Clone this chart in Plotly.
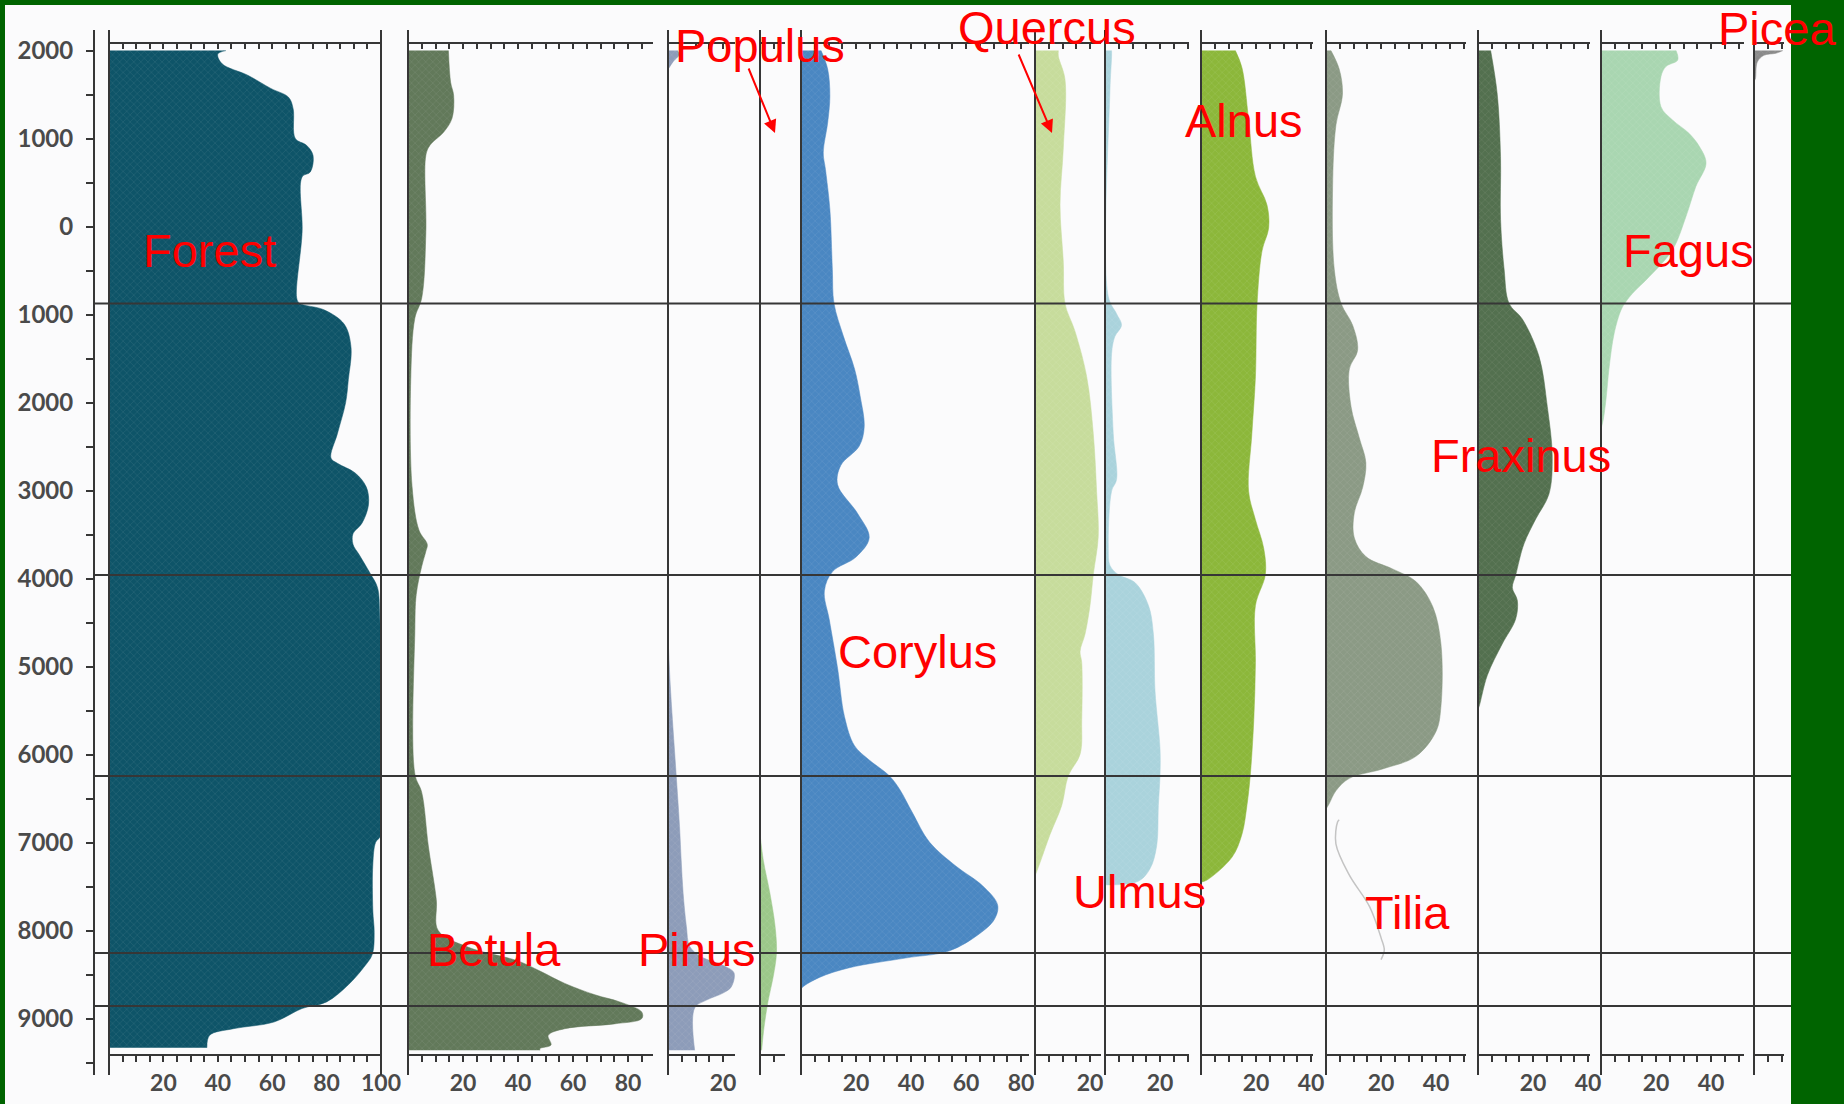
import plotly.graph_objects as go

W, H = 1844, 1104

# ---------------------------------------------------------------------------
# Pollen percentages against calendar age (AD positive, BC negative)
# ---------------------------------------------------------------------------
forest_age = [2000, 1960, 1850, 1720, 1570, 1470, 1340, 1000, 925, 810, 620, 565, -60,
              -810, -870, -945, -1110, -1380, -1735, -2000, -2350, -2630, -2690, -2800,
              -2960, -3160, -3370, -3490, -3610, -3730, -3940, -4100, -4390, -5500, -6920,
              -7000, -7245, -7775, -8020, -8270, -8420, -8615, -8810, -8885, -9040, -9115,
              -9190, -9330]
forest_pct = [43, 40, 41.6, 51, 59.5, 66, 67.7, 68.5, 72.6, 75, 74, 71, 71,
              69, 70, 79, 86.5, 89, 88, 87, 84, 81.6, 84, 90.5,
              94.6, 95.4, 93, 89.7, 89.7, 92, 96, 98.7, 99.5, 99.8, 99.8,
              98, 97, 97, 97.5, 96.8, 93.6, 88, 80, 71, 60.6, 45.7,
              37, 36]

betula_age = [2000, 1640, 1490, 1230, 1075, 925, 810, -60, -810, -1040, -1735, -2960,
              -3450, -3610, -3690, -3860, -4180, -4590, -6220, -6430, -7040, -7650, -8000,
              -8190, -8345, -8460, -8600, -8730, -8810, -8925, -9000, -9060, -9115, -9190,
              -9300, -9340, -9360]
betula_pct = [14.7, 15.5, 16.6, 16, 13, 8, 6.5, 6.5, 5, 2.5, 1, 1.5,
              4, 7, 6.5, 5, 3, 2.5, 2.5, 5, 7.4, 10.3, 11,
              22, 40, 48, 57, 68, 77, 85, 85, 75, 57, 51,
              52, 48, 48]

pinus_top_age = [2000, 1950, 1880, 1800]
pinus_top_pct = [3.5, 4, 2, 0.3]
pinus_age = [-4800, -5200, -5600, -6060, -6820, -7200, -7575, -7955, -8180, -8295,
             -8410, -8480, -8640, -8710, -8790, -8880, -9360]
pinus_pct = [0.2, 0.8, 1.6, 2.6, 4.2, 4.8, 5.5, 6.7, 7.9, 12,
             21, 24, 23, 20, 14, 9.7, 9.7]

populus_age = [-6900, -7200, -7575, -7955, -8250, -8525, -8790, -9090, -9360]
populus_pct = [0, 1.2, 3.6, 5.5, 6, 4.8, 3, 1.5, 0.6]

corylus_age = [2000, 1790, 1485, 1180, 840, 650, 195, -486, -873, -1244, -1620, -1925,
               -2273, -2493, -2712, -2932, -3261, -3536, -3755, -3920, -4140, -4469,
               -5018, -5567, -5896, -6061, -6237, -6391, -6665, -6994, -7269, -7489,
               -7708, -7873, -8038, -8230, -8312, -8422, -8532, -8642, -8670]
corylus_pct = [7.3, 9.7, 10.5, 9.7, 8.1, 8.9, 10.5, 11.4, 12, 15.4, 19.5, 21.5,
               23, 21.2, 14.5, 13.3, 20.6, 24.8, 20, 11.5, 8.5, 10.3,
               13.3, 15.8, 19.4, 24.8, 32, 35.8, 40.6, 46.7, 56.4, 66,
               71.5, 70.3, 64.8, 54, 38, 17.6, 6.7, 0.6, 0]

quercus_age = [2000, 1935, 1675, 895, 245, -405, -873, -1185, -1705, -2355, -3005, -3525,
               -3954, -4305, -4630, -4825, -4955, -5605, -5995, -6242, -6580, -6905, -7230,
               -7380]
quercus_pct = [8.5, 8.5, 10.9, 10.3, 9.1, 10.3, 10.9, 14.5, 18.8, 21.2, 22.4, 23,
               21.2, 20, 18.2, 16.4, 17, 17, 16.4, 12.1, 9.7, 5.5, 1.8,
               0]

ulmus_age = [2000, 1935, 1545, -795, -990, -1120, -1250, -1445, -2355, -2875, -3005,
             -3655, -3850, -3954, -4045, -4305, -4630, -5280, -5930, -6242, -6580, -7035,
             -7295, -7440, -7480]
ulmus_pct = [2.4, 2.4, 1.8, 1.2, 4.2, 6, 3.6, 2.4, 3, 4.2, 2.4,
             1.2, 1.8, 4.8, 10.9, 15.8, 17.6, 18.2, 20, 20, 19.4, 18.8,
             16.4, 12.1, 0]

alnus_age = [2000, 1805, 1220, 570, 245, -15, -275, -873, -1705, -2355, -3005, -3330,
             -3655, -3954, -4305, -4955, -5605, -6242, -6580, -6905, -7165, -7425, -7450]
alnus_pct = [12.5, 14.9, 17.3, 19.8, 24, 24.6, 22.2, 20.4, 19.8, 18.5, 17.3, 19.8,
             22.8, 23.4, 19.8, 19.8, 19.2, 17.9, 16.7, 14.9, 11.3, 2.2, 0]

tilia_age = [2000, 1790, 1505, 1150, 440, -483, -873, -1122, -1405, -1618, -2045, -2400,
             -2684, -2968, -3252, -3536, -3750, -3890, -4033, -4317, -4743, -5453, -5737,
             -6020, -6163, -6270, -6412, -6555, -6620]
tilia_pct = [1.8, 4.8, 6, 3.6, 2.4, 3, 5.5, 9.7, 11.5, 8.5, 9.1, 12.1,
             14.5, 13.3, 10.3, 10.3, 14.5, 24.2, 32.7, 38.8, 41.8, 41.8, 40,
             32.7, 20.6, 8.5, 3.6, 1.2, 0]
# exaggerated Tilia curve (outline only)
tilia_line_age = [-6740, -6766, -7014, -7370, -7725, -8080, -8222, -8330]
tilia_line_pct = [4.8, 4.2, 3.6, 8.5, 15.8, 20, 21.2, 20]

fraxinus_age = [2000, 1505, 795, 85, -483, -873, -1050, -1477, -2045, -2613, -3040,
                -3323, -3607, -3962, -4104, -4246, -4459, -4743, -5098, -5453, -5480]
fraxinus_pct = [4.6, 7, 8.2, 8.2, 9.5, 11.3, 16.1, 22.2, 25.2, 27, 25.8,
                21, 16.7, 13.7, 12.5, 14.3, 13.7, 8.8, 3.4, 0.4, 0]

fagus_age = [2000, 1893, 1818, 1704, 1363, 1212, 1060, 909, 720, 455, 114, -265, -568,
             -758, -852, -947, -1212, -1591, -1970, -2197, -2300]
fagus_pct = [27.3, 27.9, 23.6, 21.8, 21.8, 26, 32, 35.8, 38.2, 34.5, 30.9, 26, 17.6,
             11.5, 9.1, 7.3, 4.8, 3, 1.8, 0.8, 0]

picea_age = [2000, 1970, 1946, 1870, 1680, 1650]
picea_pct = [10.5, 8, 3.6, 1.2, 0.5, 0]

# pollen-zone boundaries (calendar years)
zone_bounds = [-873, -3959, -6243, -8254, -8857]

# tick labels
age_ticks = list(range(2000, -9501, -500))
forest_ticks = [20, 40, 60, 80, 100]
betula_ticks = [20, 40, 60, 80]
pinus_ticks = [20]
populus_ticks = []
corylus_ticks = [20, 40, 60, 80]
quercus_ticks = [20]
ulmus_ticks = [20]
alnus_ticks = [20, 40]
tilia_ticks = [20, 40]
fraxinus_ticks = [20, 40]
fagus_ticks = [20, 40]
picea_ticks = []

# ---------------------------------------------------------------------------
# Panel geometry (pixels) and styling
# ---------------------------------------------------------------------------
PX_PER_PCT = 2.75
AGE_AXIS_X = 94
Y_TOP_PX, Y_BOT_PX = 30, 1075          # extent of the age axis
BAR_TOP_PX, BAR_BOT_PX = 42.5, 1055    # top / bottom percentage bars
WHITE_LEFT, WHITE_RIGHT, WHITE_TOP = 5, 1791, 5

panels = [
    dict(left=109, xmax=100, scale=2.72, ticks=forest_ticks, color="#0e5468",
         series=[(forest_age, forest_pct)], right_line=True),
    dict(left=408, xmax=89, ticks=betula_ticks, color="#62795a",
         series=[(betula_age, betula_pct)]),
    dict(left=668, xmax=24.4, ticks=pinus_ticks, color="#8d9cb9",
         series=[(pinus_top_age, pinus_top_pct), (pinus_age, pinus_pct)]),
    dict(left=760, xmax=9, ticks=populus_ticks, color="#9cc88a",
         series=[(populus_age, populus_pct)]),
    dict(left=801, xmax=83, ticks=corylus_ticks, color="#4a87c2",
         series=[(corylus_age, corylus_pct)]),
    dict(left=1035, xmax=24, ticks=quercus_ticks, color="#c7dc9c",
         series=[(quercus_age, quercus_pct)]),
    dict(left=1105, xmax=30.5, ticks=ulmus_ticks, color="#aad3dc",
         series=[(ulmus_age, ulmus_pct)]),
    dict(left=1201, xmax=40.7, ticks=alnus_ticks, color="#8cb73a",
         series=[(alnus_age, alnus_pct)]),
    dict(left=1326, xmax=51, ticks=tilia_ticks, color="#8b9a85",
         series=[(tilia_age, tilia_pct)]),
    dict(left=1478, xmax=40.7, ticks=fraxinus_ticks, color="#53704f",
         series=[(fraxinus_age, fraxinus_pct)]),
    dict(left=1601, xmax=52, ticks=fagus_ticks, color="#a9d6b1",
         series=[(fagus_age, fagus_pct)]),
    dict(left=1754, xmax=11, ticks=picea_ticks, color="#8a8a8a",
         series=[(picea_age, picea_pct)]),
]

labels = [
    ("Forest", 209, 250), ("Betula", 494, 949), ("Pinus", 697, 949),
    ("Populus", 760, 45), ("Corylus", 917, 651), ("Quercus", 1047, 27),
    ("Ulmus", 1139, 891), ("Alnus", 1244, 121), ("Tilia", 1407, 912),
    ("Fraxinus", 1521, 455), ("Fagus", 1688, 251), ("Picea", 1777, 29),
]
arrows = [((775, 133), (748, 67)), ((1052, 133), (1018, 53))]

LINE_COL = "#363636"
TICK_FONT = dict(family="Lato, Open Sans, sans-serif", size=23, color="#4a4a4a",
                 weight="bold")


def fx(px):
    return px / W


def fy(py):
    return 1 - py / H


def lighten(hex_col, amt):
    r, g, b = (int(hex_col[k:k + 2], 16) for k in (1, 3, 5))
    r, g, b = (round(c + (255 - c) * amt) for c in (r, g, b))
    return f"#{r:02x}{g:02x}{b:02x}"


fig = go.Figure()
layout = {}
shapes = [dict(type="rect", xref="paper", yref="paper", x0=fx(WHITE_LEFT),
               x1=fx(WHITE_RIGHT), y0=0, y1=fy(WHITE_TOP), fillcolor="#fbfbfc",
               line=dict(width=0), layer="below")]
n = len(panels)
for i, p in enumerate(panels, start=1):
    xa = "x" if i == 1 else f"x{i}"
    xa_top = f"x{i + n}"
    right_px = p["left"] + p["xmax"] * p.get("scale", PX_PER_PCT)
    dom = [fx(p["left"]), fx(right_px)]
    tickvals = list(range(0, int(p["xmax"]) + 1, 5))
    ticktext = [str(v) if v in p["ticks"] else "" for v in tickvals]
    for ages, pcts in p["series"]:
        fig.add_trace(go.Scatter(
            x=pcts, y=ages, xaxis=xa, yaxis="y", mode="lines", fill="tozerox",
            fillcolor=p["color"],
            fillpattern=dict(shape="x", size=5, solidity=0.2, bgcolor=p["color"],
                             fgcolor=lighten(p["color"], 0.12), fillmode="replace"),
            line=dict(width=0.5, color=p["color"], shape="spline", smoothing=1.0),
            hoverinfo="skip", showlegend=False))
    common = dict(domain=dom, range=[0, p["xmax"]], anchor="free", showgrid=False,
                  zeroline=False, showline=True, linecolor=LINE_COL, linewidth=2,
                  tickvals=tickvals, tickcolor=LINE_COL, tickwidth=1.5, fixedrange=True,
                  automargin=False)
    layout["xaxis" if i == 1 else f"xaxis{i}"] = dict(
        common, position=fy(BAR_BOT_PX), side="bottom", ticks="outside", ticklen=6,
        ticktext=ticktext, tickfont=TICK_FONT, ticklabelstandoff=1)
    layout[f"xaxis{i + n}"] = dict(
        common, overlaying=xa, position=fy(BAR_TOP_PX), side="top", ticks="inside",
        ticklen=5, showticklabels=False)
    # invisible companion trace so the top bar is drawn
    fig.add_trace(go.Scatter(x=[0], y=[2000], xaxis=xa_top, yaxis="y", mode="markers",
                             marker=dict(opacity=0), hoverinfo="skip", showlegend=False))
    # vertical panel line(s)
    edges = [p["left"], right_px] if p.get("right_line") else [p["left"]]
    for ex in edges:
        shapes.append(dict(type="line", xref="paper", yref="y domain", x0=fx(ex),
                           x1=fx(ex), y0=0, y1=1, line=dict(color=LINE_COL, width=2)))

# exaggerated Tilia outline
tilia_idx = 9
fig.add_trace(go.Scatter(x=tilia_line_pct, y=tilia_line_age, xaxis=f"x{tilia_idx}",
                         yaxis="y", mode="lines",
                         line=dict(color="#c4c4c4", width=1.5, shape="spline"),
                         hoverinfo="skip", showlegend=False))

y_top_val = 2000 + (50.6 - Y_TOP_PX) / 0.088
y_bot_val = 2000 - (Y_BOT_PX - 50.6) / 0.088
layout["yaxis"] = dict(
    domain=[fy(Y_BOT_PX), fy(Y_TOP_PX)], range=[y_bot_val, y_top_val], anchor="free",
    position=fx(AGE_AXIS_X), side="left", showgrid=False, zeroline=False, showline=True,
    linecolor=LINE_COL, linewidth=2, ticks="outside", ticklen=7, tickwidth=1.5,
    tickcolor=LINE_COL, tickvals=age_ticks,
    ticktext=[str(abs(v)) if v % 1000 == 0 else "" for v in age_ticks],
    tickfont=dict(TICK_FONT, size=24), ticklabelstandoff=8, fixedrange=True,
    automargin=False)

# zone boundaries
for z in zone_bounds:
    shapes.append(dict(type="line", xref="paper", yref="y", x0=fx(AGE_AXIS_X),
                       x1=fx(WHITE_RIGHT), y0=z, y1=z, line=dict(color=LINE_COL, width=2)))

annotations = []
for text, x, y in labels:
    annotations.append(dict(text=text, xref="paper", yref="paper", x=fx(x), y=fy(y),
                            xanchor="center", yanchor="middle", showarrow=False,
                            font=dict(family="Liberation Sans, Arial, sans-serif",
                                      size=47, color="#ff0000")))
for (hx, hy), (tx, ty) in arrows:
    annotations.append(dict(text="", xref="paper", yref="paper", x=fx(hx), y=fy(hy),
                            ax=tx - hx, ay=ty - hy, showarrow=True, arrowhead=2,
                            arrowsize=1.3, arrowwidth=2, arrowcolor="#ff0000"))

fig.update_layout(
    width=W, height=H, autosize=False,
    margin=dict(l=0, r=0, t=0, b=0, pad=0, autoexpand=False),
    paper_bgcolor="#006400", plot_bgcolor="rgba(0,0,0,0)",
    showlegend=False, hovermode=False, shapes=shapes, annotations=annotations,
    **layout)

fig.write_html("out.html", config=dict(displayModeBar=False, responsive=False))
